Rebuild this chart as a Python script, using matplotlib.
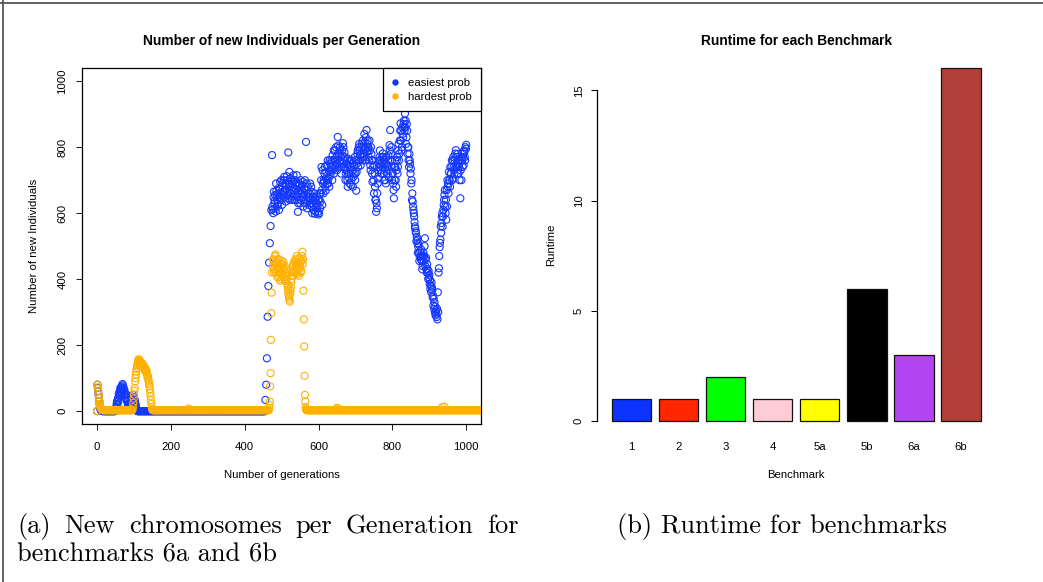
import matplotlib
matplotlib.use("Agg")
import matplotlib.pyplot as plt
from matplotlib.lines import Line2D

# ---------------- data ----------------
# "easiest prob" series (blue)
blue_early_gen = list(range(0, 109))
blue_early_val = [0, 80, 70, 60, 50, 40, 30, 20, 12, 6, 3,
                  2, 1, 1, 0, 1, 0, 0, 1, 0, 0,
                  0, 1, 0, 0, 0, 1, 0, 0, 0, 0,
                  1, 0, 0, 0, 0, 0, 1, 0, 0, 0,
                  0, 0, 1, 0, 0, 0, 0, 1, 0,
                  3, 8, 12, 22, 29, 18, 35, 40, 30, 54,
                  45, 58, 50, 70, 65, 60, 72, 75, 68, 82,
                  78, 62, 70, 58, 65, 55, 48, 52, 40, 44,
                  35, 49, 28, 30, 19, 22, 12, 15, 8, 18,
                  25, 15, 28, 30, 38, 44, 35, 38, 49, 30,
                  42, 30, 34, 25, 14, 18, 8, 5, 2]
blue_flat = (109, 455, 0)          # (first gen, last gen, value)
blue_even_gen = list(range(456, 1001, 2))
blue_even_val = [34, 80, 160, 286, 379, 450, 509, 561, 609, 776,
                 612, 648, 630, 655, 605, 668, 640, 622, 676, 650,
                 695, 660, 640, 682, 665, 700, 648, 690, 672, 712,
                 655, 784, 688, 640, 705, 668, 690, 650, 715, 676,
                 700, 655, 690, 640, 604, 668, 690, 630, 675, 660,
                 685, 650, 640, 672, 630, 816, 690, 648, 660, 625,
                 660, 642, 680, 620, 650, 610, 636, 598, 640, 615,
                 628, 604, 596, 640, 615, 660, 740, 625, 690, 700,
                 720, 680, 705, 745, 700, 690, 728, 760, 715, 740,
                 730, 775, 760, 720, 790, 745, 770, 730, 831, 780,
                 755, 800, 770, 740, 790, 812, 760, 785, 735, 720,
                 750, 700, 765, 720, 690, 740, 685, 760, 730, 710,
                 740, 770, 720, 668, 750, 790, 760, 810, 775, 745,
                 800, 770, 820, 780, 840, 795, 830, 852, 810, 790,
                 770, 820, 745, 800, 760, 695, 740, 660, 720, 640,
                 604, 615, 690, 730, 760, 790, 745, 720, 770, 781,
                 750, 700, 735, 690, 770, 740, 760, 710, 806, 852,
                 780, 740, 720, 690, 645, 700, 740, 680, 760, 720,
                 790, 760, 820, 872, 850, 800, 840, 870, 860, 902,
                 880, 830, 850, 800, 760, 780, 750, 735, 700, 660,
                 620, 600, 573, 554, 540, 528, 509, 498, 480, 468,
                 470, 490, 455, 440, 480, 470, 524, 460, 430, 445,
                 418, 425, 413, 397, 380, 390, 367, 350, 340, 330,
                 317, 306, 285, 278, 300, 433, 497, 520, 540, 589,
                 559, 610, 640, 670, 600, 580, 620, 680, 660, 700,
                 680, 720, 740, 700, 760, 740, 720, 780, 791, 750,
                 720, 760, 740, 700, 645, 770, 760, 740, 780, 790,
                 770, 800, 807]
blue_odd_gen = list(range(475, 1000, 2))
blue_odd_val = [620, 600, 665, 638, 615, 690, 652, 628, 660, 610,
                672, 645, 700, 625, 690, 655, 710, 668, 635, 685,
                700, 662, 645, 725, 680, 660, 700, 640, 695, 665,
                640, 690, 672, 715, 650, 630, 685, 660, 700, 640,
                668, 695, 620, 655, 700, 640, 670, 615, 680, 650,
                640, 690, 630, 665, 600, 645, 625, 660, 605, 630,
                650, 618, 640, 600, 660, 635, 700, 670, 730, 660,
                695, 740, 668, 725, 690, 760, 705, 680, 750, 725,
                760, 700, 745, 790, 735, 760, 800, 750, 775, 805,
                740, 790, 760, 720, 775, 750, 800, 740, 770, 700,
                730, 760, 680, 745, 705, 760, 720, 700, 750, 680,
                720, 745, 700, 760, 725, 780, 740, 800, 790, 760,
                780, 810, 760, 800, 770, 815, 760, 800, 785, 820,
                800, 760, 790, 730, 780, 720, 760, 700, 745, 680,
                640, 630, 660, 705, 740, 770, 760, 730, 755, 740,
                770, 720, 760, 700, 750, 720, 745, 775, 730, 790,
                760, 800, 700, 720, 670, 740, 760, 700, 730, 770,
                740, 810, 780, 850, 820, 790, 860, 830, 880, 850,
                860, 810, 870, 780, 800, 740, 760, 720, 690, 640,
                635, 609, 590, 560, 545, 515, 520, 480, 505, 455,
                485, 460, 470, 430, 470, 455, 500, 440, 465, 420,
                430, 400, 405, 385, 370, 360, 375, 345, 320, 310,
                300, 290, 295, 310, 360, 420, 470, 510, 560, 570,
                600, 590, 625, 655, 620, 640, 670, 700, 690, 725,
                700, 740, 720, 760, 705, 770, 730, 760, 740, 770,
                740, 780, 720, 750, 760, 730, 700, 760, 770, 745,
                785, 760, 795]

# "hardest prob" series (orange)
orange_start_gen = list(range(0, 15))
orange_start_val = [0, 80, 72, 62, 50, 40, 30, 22, 16, 12, 9, 7, 6, 5, 4]
orange_bump_gen = list(range(96, 151))
orange_bump_val = [4, 12, 25, 38, 50, 62, 70, 90, 100, 110,
                   120, 128, 135, 140, 145, 150, 157, 152, 148, 155,
                   145, 150, 140, 148, 142, 138, 145, 135, 140, 132,
                   138, 128, 135, 125, 130, 120, 126, 118, 122, 112,
                   110, 100, 106, 95, 90, 82, 75, 66, 56, 45,
                   33, 22, 12, 6, 4]
orange_rise_gen = list(range(466, 475))
orange_rise_val = [10, 18, 29, 75, 115, 216, 297, 359, 420]
orange_even_gen = list(range(476, 555, 2))
orange_even_val = [440, 455, 420, 470, 445, 430, 460, 410, 440, 425,
                   395, 445, 420, 455, 430, 405, 440, 420, 395, 410,
                   380, 360, 345, 332, 365, 390, 410, 440, 420, 455,
                   430, 460, 440, 415, 450, 430, 465, 440, 420, 455]
orange_odd_gen = list(range(477, 556, 2))
orange_odd_val = [460, 430, 445, 475, 420, 450, 405, 435, 460, 415,
                  430, 400, 445, 415, 450, 425, 395, 430, 400, 385,
                  370, 350, 338, 355, 375, 400, 425, 410, 445, 425,
                  450, 420, 470, 430, 445, 410, 435, 455, 425, 470]
orange_fall_gen = list(range(556, 567))
orange_fall_val = [483, 445, 460, 365, 278, 196, 107, 49, 29, 12, 6]
orange_extra_gen = [248, 650, 652, 935, 941]
orange_extra_val = [8, 10, 8, 12, 14]
orange_flat = [(15, 95, 3), (151, 465, 3), (567, 1040, 3)]

# benchmark runtimes
bench_labels = ["1", "2", "3", "4", "5a", "5b", "6a", "6b"]
bench_runtime = [1, 1, 2, 1, 1, 6, 3, 16]
bench_colors = ["#0D33FF", "#FF2600", "#00FF00", "#FFCCD5", "#FFFF00",
                "#000000", "#B245F0", "#B43F38"]

BLUE = "#1438FF"
ORANGE = "#FFB000"

# ---------------- assemble series ----------------
def expand(runs):
    xs, ys = [], []
    for a, b, v in runs:
        for g in range(a, b + 1):
            xs.append(g)
            ys.append(v)
    return xs, ys

fx, fy = expand([blue_flat])
blue_x = blue_early_gen + fx + blue_even_gen + blue_odd_gen
blue_y = blue_early_val + fy + blue_even_val + blue_odd_val
ofx, ofy = expand(orange_flat)
orange_x = (orange_start_gen + orange_bump_gen + orange_rise_gen + orange_even_gen
            + orange_odd_gen + orange_fall_gen + orange_extra_gen + ofx)
orange_y = (orange_start_val + orange_bump_val + orange_rise_val + orange_even_val
            + orange_odd_val + orange_fall_val + orange_extra_val + ofy)

# ---------------- figure ----------------
W, H = 1043, 582
plt.rcParams["font.family"] = ["Liberation Sans", "DejaVu Sans"]
FS = 8.2
fig = plt.figure(figsize=(W / 100, H / 100), dpi=100)


def rect(l, t, r, b):
    return [l / W, 1 - b / H, (r - l) / W, (b - t) / H]


def ftext(x, y, s, **kw):
    return fig.text(x / W, 1 - y / H, s, **kw)


# outer frame (top and left edges)
fig.add_artist(Line2D([0, 1], [1 - 2.5 / H, 1 - 2.5 / H], transform=fig.transFigure,
                      color="#555555", linewidth=1.3))
fig.add_artist(Line2D([2.5 / W, 2.5 / W], [0, 1], transform=fig.transFigure,
                      color="#555555", linewidth=1.3))

# ---- left: scatter ----
ax1 = fig.add_axes(rect(82.3, 68, 481, 424.3))
ax1.scatter(blue_x, blue_y, s=26, facecolors="none", edgecolors=BLUE,
            linewidths=0.8, zorder=2)
ax1.scatter(orange_x, orange_y, s=26, facecolors="none", edgecolors=ORANGE,
            linewidths=0.8, zorder=3)
ax1.set_xlim(-40, 1040)
ax1.set_ylim(-40, 1040)
ax1.set_xticks(range(0, 1001, 200))
ax1.set_yticks(range(0, 1001, 200))
for sp in ax1.spines.values():
    sp.set_linewidth(0.9)
ax1.tick_params(axis="both", direction="out", length=4.1, width=0.75,
                labelsize=FS, color="#222222")
ax1.tick_params(axis="x", pad=8.4)
ax1.tick_params(axis="y", pad=6.6)
for lab in ax1.get_yticklabels():
    lab.set_rotation(90)
    lab.set_va("center")

leg_handles = [Line2D([], [], linestyle="none", marker="o", markersize=3.6,
                      color=BLUE),
               Line2D([], [], linestyle="none", marker="o", markersize=3.6,
                      color=ORANGE)]
leg = ax1.legend(leg_handles, ["easiest prob", "hardest prob"],
                 loc="upper right", bbox_to_anchor=(1, 1), borderaxespad=0,
                 fontsize=FS, frameon=True, fancybox=False, framealpha=1,
                 edgecolor="black", borderpad=0.85, handlelength=0.45,
                 handletextpad=0.85, labelspacing=0.35)
leg.get_frame().set_linewidth(0.9)

ftext(281.6, 45, "Number of new Individuals per Generation", ha="center",
      va="baseline", fontsize=9.9, fontweight="bold")
ftext(281.6, 478, "Number of generations", ha="center", va="baseline",
      fontsize=FS)
ftext(36.6, 246, "Number of new Individuals", ha="center", va="baseline",
      rotation=90, rotation_mode="anchor", fontsize=FS)

# ---- right: bar chart ----
ax2 = fig.add_axes(rect(596.9, 54.1, 995.5, 435.1))
pos = [0.7 + 1.2 * i for i in range(len(bench_runtime))]
ax2.bar(pos, bench_runtime, width=1.0, color=bench_colors,
        edgecolor="#111111", linewidth=0.9)
ax2.set_xlim(-0.176, 9.976)
ax2.set_ylim(-0.64, 16.64)
ax2.set_xticks(pos)
ax2.set_xticklabels(bench_labels)
ax2.set_yticks([0, 5, 10, 15])
for s in ("top", "right", "bottom"):
    ax2.spines[s].set_visible(False)
ax2.spines["left"].set_bounds(0, 15)
ax2.spines["left"].set_linewidth(0.9)
ax2.tick_params(axis="x", length=0, pad=4.75, labelsize=FS)
ax2.tick_params(axis="y", direction="out", length=4.1, width=0.75,
                pad=5.4, labelsize=FS)
for lab in ax2.get_yticklabels():
    lab.set_rotation(90)
    lab.set_va("center")

ftext(796.2, 45, "Runtime for each Benchmark", ha="center", va="baseline",
      fontsize=9.9, fontweight="bold")
ftext(796.2, 477.5, "Benchmark", ha="center", va="baseline", fontsize=FS)
ftext(554, 244.6, "Runtime", ha="center", va="baseline", rotation=90,
      rotation_mode="anchor", fontsize=FS)

# ---- captions ----
CAP = dict(fontsize=19, family="cmr10", va="baseline", ha="left")
# first line of caption (a) is justified between x=17 and x=519
words = "(a) New chromosomes per Generation for".split()
renderer = fig.canvas.get_renderer()
arts = [ftext(0, 533, w, **CAP) for w in words]
widths = [a.get_window_extent(renderer).width for a in arts]
gap = (519 - 17 - sum(widths)) / (len(words) - 1)
x = 17.0
for a, w in zip(arts, widths):
    a.set_x(x / W)
    x += w + gap
ftext(17, 562, "benchmarks 6a and 6b", **CAP)
ftext(617, 533, "(b) Runtime for benchmarks", **CAP)

fig.savefig("out.png", dpi=100)
